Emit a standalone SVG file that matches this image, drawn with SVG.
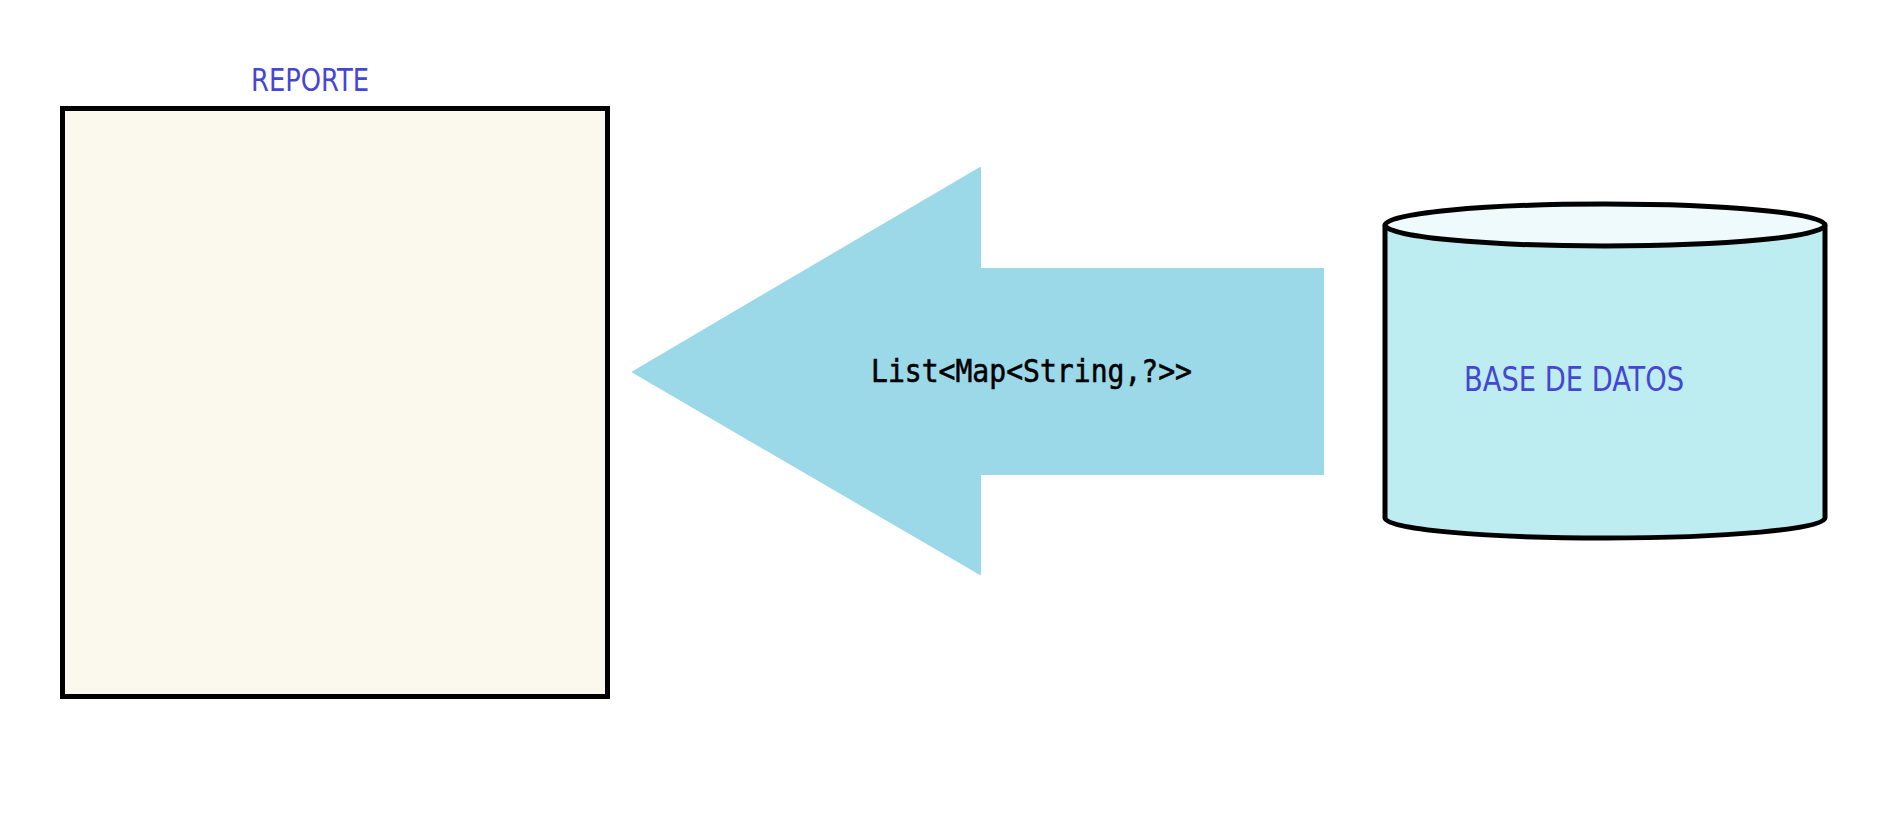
<svg xmlns="http://www.w3.org/2000/svg" width="1885" height="820" viewBox="0 0 1885 820">
<style>
.lbl{font-family:"DejaVu Sans Condensed","DejaVu Sans",sans-serif;fill:#4646d2;}
.mono{font-family:"DejaVu Sans Mono",monospace;fill:#000;font-weight:500;}
.stk{stroke:#000;stroke-width:5;}
</style>
<rect width="1885" height="820" fill="#fff"/>
<g id="reporte">
<rect class="stk" x="62.5" y="108.5" width="545" height="588" fill="#fbf9ed" stroke-width="5.5"/>
<text class="lbl" x="251" y="91" font-size="32" textLength="118" lengthAdjust="spacingAndGlyphs">REPORTE</text>
</g>
<g id="connectors">
<path d="M633,372 L980,168 L980,269 L1323,269 L1323,474 L980,474 L980,574 Z" fill="#9bd8e8" stroke="#9bd8e8" stroke-width="2" stroke-linejoin="round"/>
<text class="mono" x="871" y="382" font-size="32" textLength="321" lengthAdjust="spacingAndGlyphs" stroke="#000" stroke-width="0.6">List&lt;Map&lt;String,?&gt;&gt;</text>
</g>
<g id="base-datos">
<path class="stk" d="M1385,225 L1385,518 A220,20 0 0 0 1825,518 L1825,225" fill="#bdecf1" stroke-width="4.5"/>
<ellipse class="stk" cx="1605" cy="225" rx="220" ry="21" fill="#eefafb" stroke-width="4.5"/>
<text class="lbl" x="1464" y="391" font-size="34" textLength="220" lengthAdjust="spacingAndGlyphs">BASE DE DATOS</text>
</g>
</svg>
